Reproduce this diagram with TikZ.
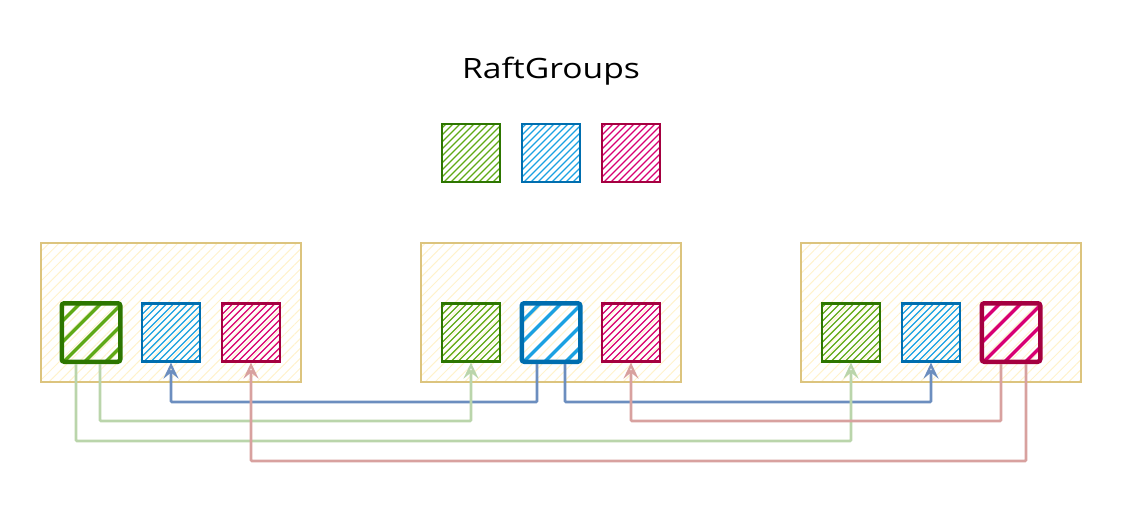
\documentclass[tikz,border=0pt]{standalone}
\usepackage{fontspec}
\setmainfont{Open Sans}
\usetikzlibrary{patterns.meta,arrows.meta,calc}
\definecolor{gS}{HTML}{2D7600}\definecolor{gF}{HTML}{60A917}
\definecolor{bS}{HTML}{006EAF}\definecolor{bF}{HTML}{1BA1E2}
\definecolor{rS}{HTML}{A50040}\definecolor{rF}{HTML}{D80073}
\definecolor{yS}{HTML}{DCC47E}\definecolor{yF}{HTML}{FFF2CC}
\definecolor{cB}{HTML}{6C8EBF}\definecolor{cG}{HTML}{82B366}\definecolor{cR}{HTML}{B85450}
\tikzset{
  hatch/.style n args={4}{path picture={\foreach \k in {-#4,...,#4} \draw[#1,line width=#3]
      ($(path picture bounding box.south west)+(\k*#2,-2pt)$) -- ++(130pt,130pt);}},
  sq/.style 2 args={draw=#1, line width=2.2pt, minimum size=58pt, inner sep=0pt,
    hatch={#2}{7pt}{1.2pt}{9}},
  bigsq/.style 2 args={draw=#1, line width=4.5pt, rounded corners=2.5pt, minimum size=58.5pt, inner sep=0pt,
    hatch={#2}{21pt}{3.4pt}{3}},
  box/.style={draw=yS, line width=2pt, inner sep=0pt,
    pattern={Lines[angle=45,distance=7pt,line width=1pt]}, pattern color=yF},
  link/.style={draw=#1, line width=2.6pt, rounded corners=1pt,
    -{Stealth[open,length=16pt,width=15pt,inset=6pt,line width=2.2pt]}},
}
\begin{document}
\begin{tikzpicture}[x=1pt,y=-1pt]
\useasboundingbox (0,0) rectangle (1122,520);
\node[xscale=1.2] (title) at (551,71) {\fontsize{28}{32}\selectfont RaftGroups};
\node[sq={gS}{gF}] (tg) at (471,153) {};
\node[sq={bS}{bF}] (tb) at (551,153) {};
\node[sq={rS}{rF}] (tr) at (631,153) {};
% containers
\node[box, minimum width=260pt, minimum height=139pt] (n1) at (171,312.5) {};
\node[box, minimum width=260pt, minimum height=139pt] (n2) at (551,312.5) {};
\node[box, minimum width=280pt, minimum height=139pt] (n3) at (941,312.5) {};
% node 1
\node[bigsq={gS}{gF}] (ag) at (91,332.5) {};
\node[sq={bS}{bF}] (ab) at (171,332.5) {};
\node[sq={rS}{rF}] (ar) at (251,332.5) {};
% node 2
\node[sq={gS}{gF}] (bg) at (471,332.5) {};
\node[bigsq={bS}{bF}] (bb) at (551,332.5) {};
\node[sq={rS}{rF}] (br) at (631,332.5) {};
% node 3
\node[sq={gS}{gF}] (cg) at (851,332.5) {};
\node[sq={bS}{bF}] (cb) at (931,332.5) {};
\node[bigsq={rS}{rF}] (cr) at (1011,332.5) {};
% connectors
\draw[link=cB] ([xshift=-14pt]bb.south) -- ++(0,38) -| (ab.south);
\draw[link=cB] ([xshift=14pt]bb.south) -- ++(0,38) -| (cb.south);
\draw[link=cG!55] ([xshift=9pt]ag.south) -- ++(0,57) -| (bg.south);
\draw[link=cG!55] ([xshift=-15pt]ag.south) -- ++(0,77) -| (cg.south);
\draw[link=cR!55] ([xshift=-10pt]cr.south) -- ++(0,57) -| (br.south);
\draw[link=cR!55] ([xshift=15pt]cr.south) -- ++(0,97) -| (ar.south);
\end{tikzpicture}
\end{document}
